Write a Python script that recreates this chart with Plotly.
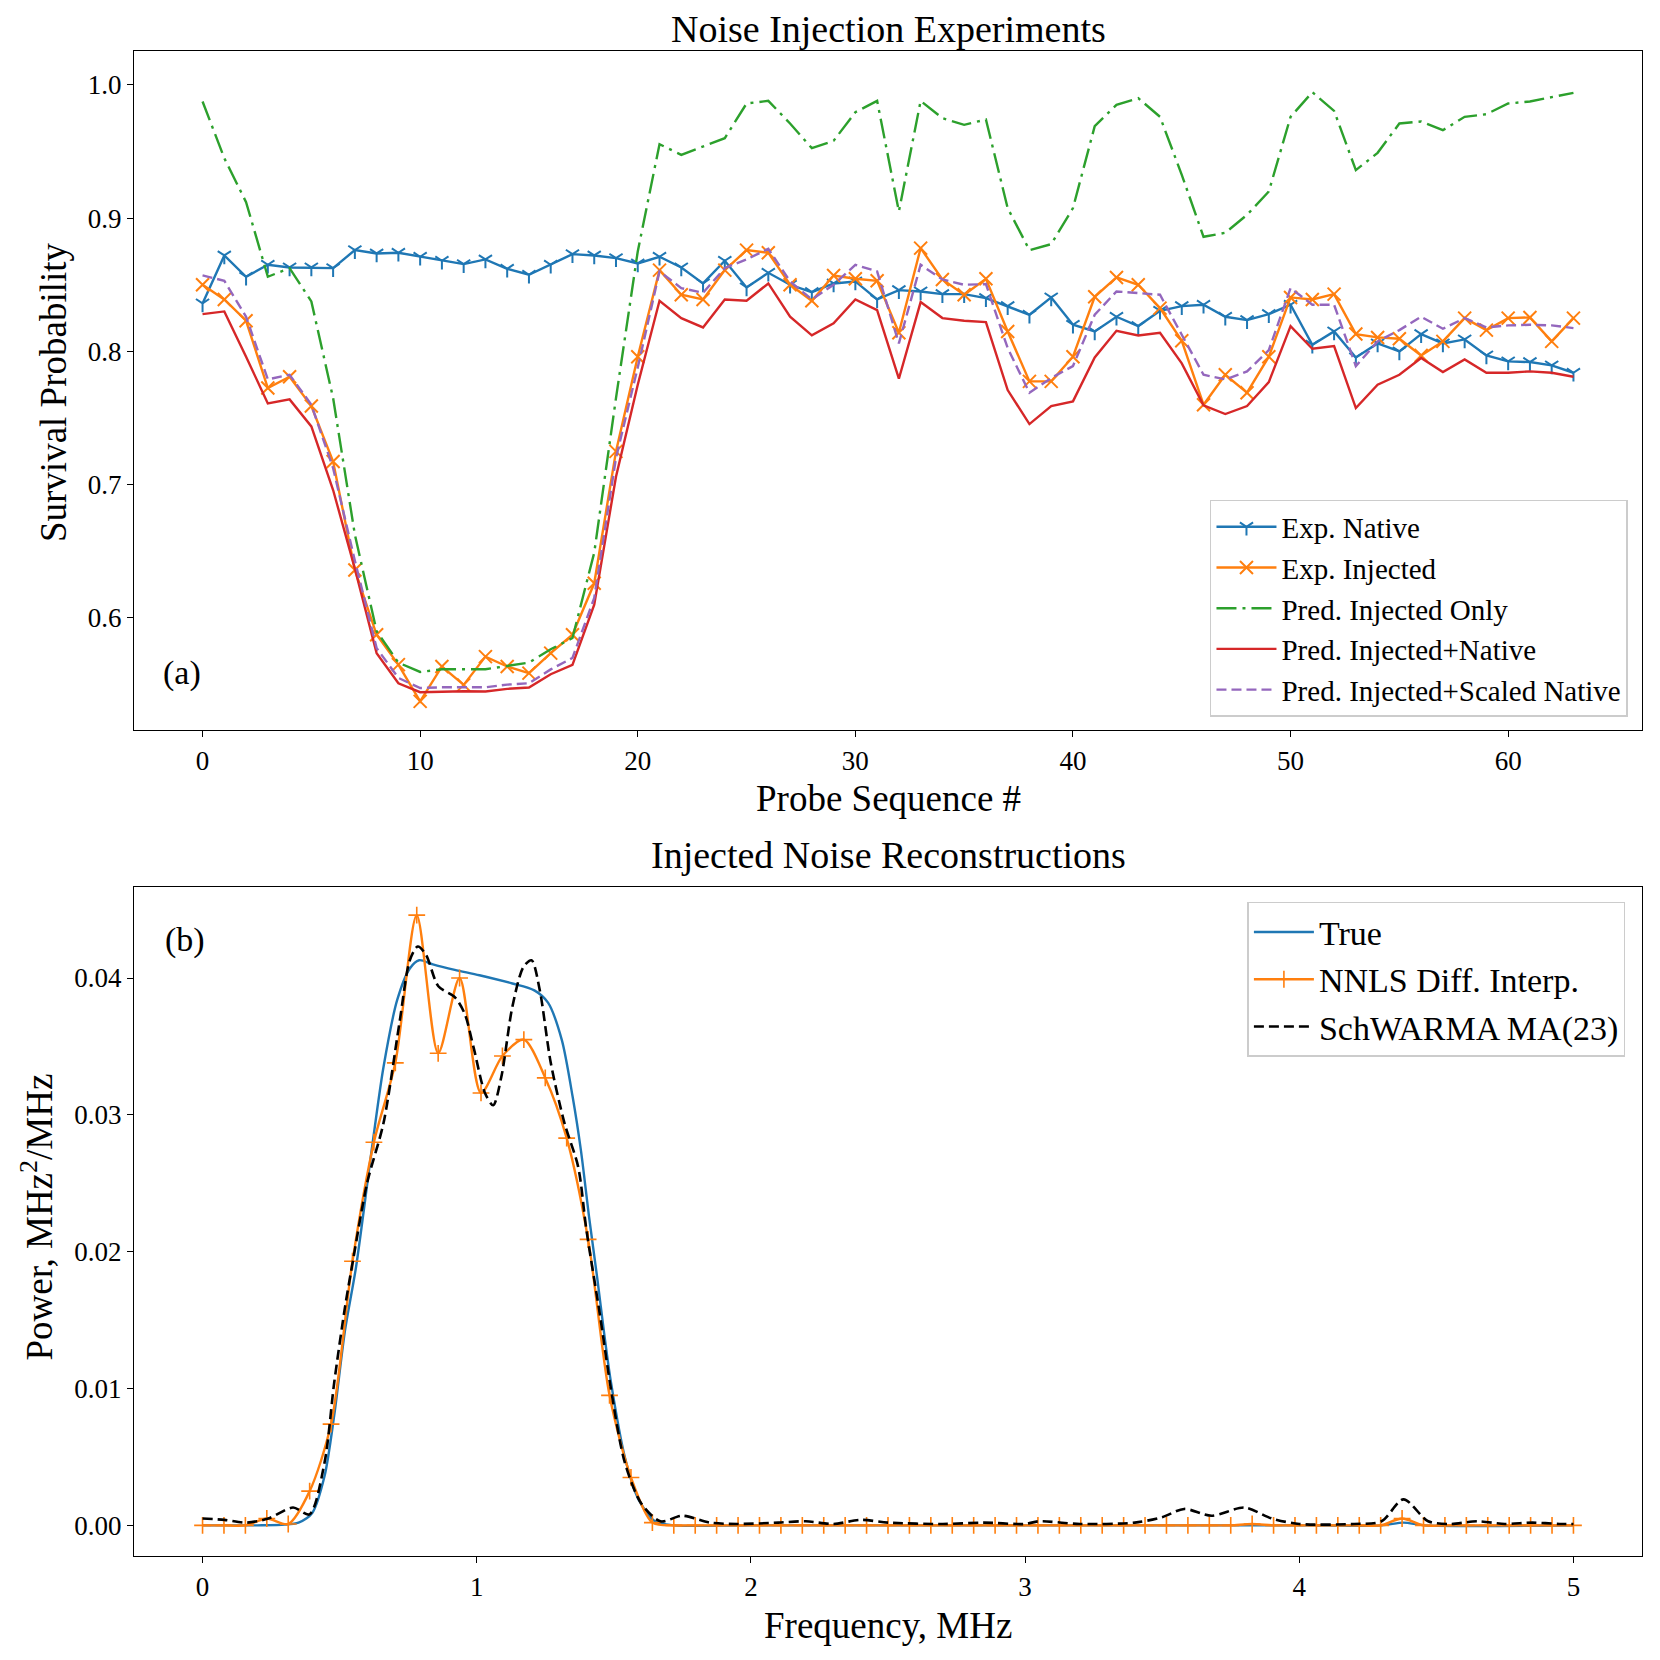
import plotly.graph_objects as go
from plotly.subplots import make_subplots

# ---------------- Panel (a) data ----------------
probe_seq = list(range(64))

exp_native = [0.836, 0.872, 0.856, 0.865, 0.863, 0.863, 0.8625, 0.876, 0.8735, 0.874,
              0.871, 0.868, 0.8655, 0.869, 0.862, 0.8575, 0.865, 0.873, 0.872, 0.870,
              0.866, 0.871, 0.863, 0.851, 0.868, 0.848, 0.859, 0.850, 0.8445, 0.851,
              0.8525, 0.839, 0.846, 0.845, 0.843, 0.843, 0.840, 0.834, 0.8275, 0.8405,
              0.820, 0.815, 0.826, 0.819, 0.8305, 0.834, 0.835, 0.826, 0.8235, 0.828,
              0.835, 0.805, 0.815, 0.7955, 0.806, 0.800, 0.813, 0.806, 0.809, 0.797,
              0.7925, 0.792, 0.7895, 0.784]

exp_injected = [0.850, 0.839, 0.823, 0.7725, 0.781, 0.759, 0.7174, 0.636, 0.5874, 0.565,
                0.5374, 0.5636, 0.5498, 0.571, 0.5636, 0.5586, 0.5736, 0.5874, 0.626, 0.725,
                0.796, 0.861, 0.8425, 0.839, 0.861, 0.876, 0.874, 0.850, 0.838, 0.857,
                0.8545, 0.853, 0.814, 0.8775, 0.854, 0.8425, 0.8545, 0.815, 0.7775, 0.7775,
                0.796, 0.841, 0.8555, 0.850, 0.8325, 0.808, 0.760, 0.7825, 0.769, 0.796,
                0.8405, 0.839, 0.843, 0.813, 0.8105, 0.8095, 0.797, 0.8075, 0.825, 0.816,
                0.825, 0.8255, 0.8075, 0.825]

pred_injected_only = [0.9875, 0.945, 0.912, 0.856, 0.8625, 0.8375, 0.765, 0.6625, 0.590, 0.5665,
                      0.5595, 0.5615, 0.5615, 0.5615, 0.564, 0.5665, 0.5765, 0.585, 0.649, 0.765,
                      0.875, 0.9555, 0.9475, 0.954, 0.960, 0.986, 0.988, 0.971, 0.9525, 0.958,
                      0.9795, 0.988, 0.905, 0.988, 0.975, 0.970, 0.974, 0.9075, 0.876, 0.8805,
                      0.9075, 0.969, 0.985, 0.990, 0.976, 0.9325, 0.886, 0.889, 0.9025, 0.920,
                      0.976, 0.9945, 0.9805, 0.936, 0.949, 0.971, 0.9725, 0.966, 0.976, 0.978,
                      0.986, 0.9875, 0.9905, 0.994]

pred_inj_native = [0.828, 0.830, 0.796, 0.761, 0.764, 0.7437, 0.696, 0.637, 0.5736, 0.551,
                   0.5443, 0.5448, 0.545, 0.5448, 0.5468, 0.5478, 0.5578, 0.5648, 0.610, 0.706,
                   0.775, 0.838, 0.825, 0.818, 0.839, 0.838, 0.851, 0.826, 0.812, 0.821,
                   0.839, 0.831, 0.7795, 0.837, 0.825, 0.823, 0.822, 0.771, 0.7455, 0.759,
                   0.7625, 0.7955, 0.8155, 0.812, 0.814, 0.791, 0.7595, 0.753, 0.759, 0.777,
                   0.819, 0.802, 0.804, 0.7575, 0.775, 0.7825, 0.795, 0.7845, 0.794, 0.784,
                   0.784, 0.785, 0.784, 0.781]

pred_inj_scaled = [0.857, 0.853, 0.826, 0.779, 0.7825, 0.760, 0.7124, 0.643, 0.5774, 0.555,
                   0.5474, 0.548, 0.548, 0.548, 0.550, 0.551, 0.5614, 0.570, 0.615, 0.720,
                   0.788, 0.860, 0.8475, 0.844, 0.8625, 0.869, 0.877, 0.8525, 0.839, 0.850,
                   0.865, 0.860, 0.806, 0.865, 0.854, 0.850, 0.8505, 0.8025, 0.769, 0.780,
                   0.789, 0.8275, 0.845, 0.844, 0.8425, 0.8125, 0.7825, 0.779, 0.785, 0.801,
                   0.8475, 0.835, 0.835, 0.789, 0.8075, 0.816, 0.826, 0.817, 0.825, 0.818,
                   0.8195, 0.820, 0.8195, 0.8175]

# ---------------- Panel (b) data ----------------
nnls_freq = [i * 5 / 64 for i in range(65)]
nnls_power = [0.0, 0.0, 0.0, 0.0005, 0.0001, 0.0025, 0.0074, 0.0193, 0.0280, 0.0338,
              0.0446, 0.0345, 0.0400, 0.0316, 0.0343, 0.0355, 0.0327, 0.0283, 0.0209, 0.0095,
              0.0035, 0.0002, 0.0, 0.0, 0.0, 0.0, 0.0, 0.0, 0.0, 0.0,
              0.0, 0.0, 0.0, 0.0, 0.0, 0.0, 0.0, 0.0, 0.0, 0.0,
              0.0, 0.0, 0.0, 0.0, 0.0, 0.0, 0.0, 0.0, 0.0, 0.0001,
              0.0, 0.0, 0.0, 0.0, 0.0, 0.0, 0.0005, 0.0, 0.0, 0.0,
              0.0, 0.0, 0.0, 0.0, 0.0]

true_freq = [0.0, 0.2, 0.3, 0.35, 0.40, 0.445, 0.48, 0.52, 0.56, 0.62, 0.66, 0.71, 0.756,
             0.79, 0.84, 0.92, 1.01, 1.13, 1.21, 1.26, 1.31, 1.35, 1.38, 1.41, 1.44, 1.465,
             1.49, 1.54, 1.59, 1.65, 1.72, 2.0, 3.0, 4.0, 4.3, 4.38, 4.46, 5.0]
true_power = [0.0, 0.0, 0.00005, 0.0002, 0.0009, 0.0036, 0.0080, 0.0143, 0.0189, 0.0279,
              0.0335, 0.0384, 0.0407, 0.0413, 0.0410, 0.0406, 0.0402, 0.0396, 0.0391, 0.0382,
              0.0355, 0.0313, 0.0274, 0.0225, 0.0180, 0.0140, 0.0104, 0.0050, 0.0019, 0.0003,
              0.0, 0.0, 0.0, 0.0, 0.0, 0.0002, 0.0, 0.0]

schwarma_freq = [0.0, 0.08, 0.16, 0.24, 0.33, 0.39, 0.445, 0.48, 0.52, 0.55, 0.60, 0.66,
                 0.718, 0.756, 0.785, 0.815, 0.86, 0.92, 0.956, 0.99, 1.03, 1.06, 1.09, 1.13,
                 1.17, 1.20, 1.23, 1.27, 1.32, 1.37, 1.40, 1.45, 1.49, 1.54, 1.60, 1.67, 1.75,
                 1.85, 1.95, 2.1, 2.2, 2.3, 2.4, 2.5, 2.7, 2.85, 3.0, 3.05, 3.2, 3.4, 3.5,
                 3.58, 3.68, 3.8, 3.9, 4.0, 4.2, 4.3, 4.38, 4.47, 4.55, 4.65, 4.75, 4.85,
                 4.95, 5.0]
schwarma_power = [0.0005, 0.0004, 0.0002, 0.0005, 0.0013, 0.0008, 0.0046, 0.0104, 0.0160,
                  0.0195, 0.0250, 0.0294, 0.0367, 0.0413, 0.0423, 0.0417, 0.0394, 0.0386,
                  0.0374, 0.0348, 0.0316, 0.0307, 0.0328, 0.0379, 0.0408, 0.0413, 0.0391,
                  0.0338, 0.0294, 0.0262, 0.0216, 0.0153, 0.0099, 0.0046, 0.0016, 0.0003,
                  0.0007, 0.0002, 0.0001, 0.0002, 0.0003, 0.0001, 0.0004, 0.0002, 0.0001,
                  0.0002, 0.0001, 0.0003, 0.0001, 0.0002, 0.0006, 0.0012, 0.0007, 0.0013,
                  0.0005, 0.0001, 0.0001, 0.0003, 0.0019, 0.0003, 0.0001, 0.0003, 0.0001,
                  0.0002, 0.0001, 0.0001]

BLUE, ORANGE, GREEN, RED, PURPLE = "#1f77b4", "#ff7f0e", "#2ca02c", "#d62728", "#9467bd"
FONT = "Liberation Serif"

fig = make_subplots(rows=2, cols=1, vertical_spacing=0.1)

fig.add_trace(go.Scatter(x=probe_seq, y=exp_native, name="Exp. Native", mode="lines+markers",
                         line=dict(color=BLUE, width=2.4),
                         marker=dict(symbol="y-down", size=11, color=BLUE,
                                     line=dict(color=BLUE, width=2)),
                         legend="legend"), row=1, col=1)
fig.add_trace(go.Scatter(x=probe_seq, y=exp_injected, name="Exp. Injected", mode="lines+markers",
                         line=dict(color=ORANGE, width=2.4),
                         marker=dict(symbol="x-thin", size=13, color=ORANGE,
                                     line=dict(color=ORANGE, width=2)),
                         legend="legend"), row=1, col=1)
fig.add_trace(go.Scatter(x=probe_seq, y=pred_injected_only, name="Pred. Injected Only", mode="lines",
                         line=dict(color=GREEN, width=2.4, dash="20px,6px,3px,6px"),
                         legend="legend"), row=1, col=1)
fig.add_trace(go.Scatter(x=probe_seq, y=pred_inj_native, name="Pred. Injected+Native", mode="lines",
                         line=dict(color=RED, width=2.4),
                         legend="legend"), row=1, col=1)
fig.add_trace(go.Scatter(x=probe_seq, y=pred_inj_scaled, name="Pred. Injected+Scaled Native", mode="lines",
                         line=dict(color=PURPLE, width=2.4, dash="10px,5px"),
                         legend="legend"), row=1, col=1)

fig.add_trace(go.Scatter(x=true_freq, y=true_power, name="True", mode="lines",
                         line=dict(color=BLUE, width=2.4, shape="spline", smoothing=0.8),
                         legend="legend2"), row=2, col=1)
fig.add_trace(go.Scatter(x=nnls_freq, y=nnls_power, name="NNLS Diff. Interp.", mode="lines+markers",
                         line=dict(color=ORANGE, width=2.4, shape="spline", smoothing=0.8),
                         marker=dict(symbol="cross-thin", size=12, color=ORANGE,
                                     line=dict(color=ORANGE, width=1.6)),
                         legend="legend2"), row=2, col=1)
fig.add_trace(go.Scatter(x=schwarma_freq, y=schwarma_power, name="SchWARMA MA(23)", mode="lines",
                         line=dict(color="black", width=2.6, dash="10px,5px", shape="spline", smoothing=0.8),
                         legend="legend2"), row=2, col=1)

axis_common = dict(showline=True, mirror=True, linecolor="black", linewidth=1.3,
                   ticks="outside", ticklen=6, tickwidth=1.3, tickcolor="black",
                   showgrid=False, zeroline=False,
                   tickfont=dict(family=FONT, size=27, color="black"))

fig.update_xaxes(axis_common)
fig.update_yaxes(axis_common)

fig.update_xaxes(range=[-3.15, 66.15], tickvals=[0, 10, 20, 30, 40, 50, 60], row=1, col=1)
fig.update_yaxes(range=[0.5159, 1.0254], tickvals=[0.6, 0.7, 0.8, 0.9, 1.0],
                 ticktext=["0.6", "0.7", "0.8", "0.9", "1.0"], domain=[0.5488, 1.0], row=1, col=1)
fig.update_xaxes(range=[-0.25, 5.25], tickvals=[0, 1, 2, 3, 4, 5], row=2, col=1)
fig.update_yaxes(range=[-0.00224, 0.04665], tickvals=[0, 0.01, 0.02, 0.03, 0.04],
                 ticktext=["0.00", "0.01", "0.02", "0.03", "0.04"], domain=[0.0, 0.4445], row=2, col=1)

legend_common = dict(bgcolor="rgba(255,255,255,0.9)", bordercolor="#cccccc", borderwidth=1.5,
                     itemwidth=60)
fig.update_layout(
    width=1660, height=1660,
    margin=dict(l=126, r=26, t=43, b=112),
    plot_bgcolor="white", paper_bgcolor="white",
    font=dict(family=FONT, color="black"),
    legend=dict(x=0.9907, y=0.5575, xanchor="right", yanchor="bottom",
                font=dict(family=FONT, size=29, color="black"), **legend_common),
    legend2=dict(x=0.989, y=0.4346, xanchor="right", yanchor="top",
                 font=dict(family=FONT, size=34, color="black"), **legend_common),
)

annots = [
    dict(text="Noise Injection Experiments", x=0.5, y=1.0145, size=38),
    dict(text="Injected Noise Reconstructions", x=0.5, y=0.4660, size=38),
    dict(text="Probe Sequence #", x=0.5, y=0.503, size=37),
    dict(text="Frequency, MHz", x=0.5, y=-0.0465, size=37),
    dict(text="Survival Probability", x=-0.0537, y=0.7734, size=37, angle=-90),
    dict(text="Power, MHz<sup>2</sup>/MHz", x=-0.0643, y=0.2249, size=37, angle=-90),
    dict(text="(a)", x=0.0318, y=0.5867, size=34),
    dict(text="(b)", x=0.0338, y=0.4093, size=34),
]
for a in annots:
    fig.add_annotation(text=a["text"], x=a["x"], y=a["y"], xref="paper", yref="paper",
                       xanchor="center", yanchor="middle", showarrow=False,
                       textangle=a.get("angle", 0),
                       font=dict(family=FONT, size=a["size"], color="black"))

fig.write_html("out.html")
